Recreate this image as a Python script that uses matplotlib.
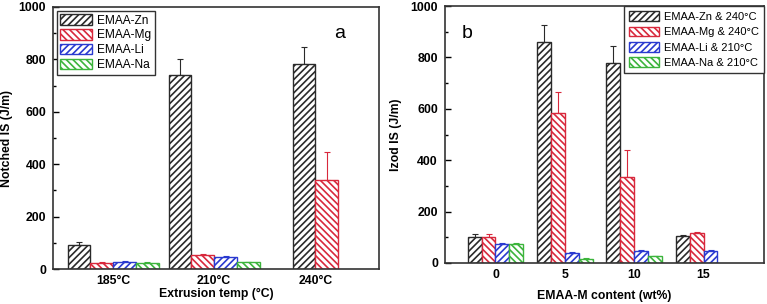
import matplotlib
matplotlib.use("Agg")
import matplotlib.pyplot as plt
import numpy as np

plt.rcParams['font.family'] = ['Liberation Sans', 'DejaVu Sans']
plt.rcParams['hatch.linewidth'] = 1.2

# panel a: notched impact strength vs extrusion temperature
temps_a = ["185°C", "210°C", "240°C"]
zn_a = [93, 741, 782]
mg_a = [23, 55, 339]
li_a = [28, 47, np.nan]
na_a = [24, 25, np.nan]
zn_a_err = [9, 62, 64]
mg_a_err = [3, 3, 106]
li_a_err = [3, 3, 0]
na_a_err = [4, 2, 0]

# panel b: izod impact strength vs EMAA-M content
content_b = ["0", "5", "10", "15"]
zn_b = [100, 862, 780, 105]
mg_b = [101, 585, 336, 118]
li_b = [75, 40, 48, 46]
na_b = [74, 17, 27, np.nan]
zn_b_err = [13, 64, 65, 3]
mg_b_err = [13, 79, 105, 4]
li_b_err = [3, 3, 3, 3]
na_b_err = [3, 2, 2, 0]

labels_a = ["EMAA-Zn", "EMAA-Mg", "EMAA-Li", "EMAA-Na"]
labels_b = ["EMAA-Zn & 240°C", "EMAA-Mg & 240°C", "EMAA-Li & 210°C", "EMAA-Na & 210°C"]

colors = ["#2a2a2a", "#d8283c", "#2a3ad0", "#3cb43c"]
hatches = ["/////", "\\\\\\\\\\", "/////", "\\\\\\\\\\"]
FS = 8.8


def draw_bars(ax, series, errs, labels, width, center_missing):
    series = [np.array(s, dtype=float) for s in series]
    n_groups = len(series[0])
    n_ser = len(series)
    for g in range(n_groups):
        if center_missing:
            idx = [k for k in range(n_ser) if not np.isnan(series[k][g])]
        else:
            idx = list(range(n_ser))
        m = len(idx)
        for j, k in enumerate(idx):
            v = series[k][g]
            if np.isnan(v):
                continue
            xpos = g + (j - (m - 1) / 2) * width
            ax.bar(xpos, v, width, facecolor="white", edgecolor=colors[k],
                   hatch=hatches[k], linewidth=1.0, zorder=2,
                   label=labels[k] if g == 0 else None)
            e = errs[k][g]
            if e > 0:
                ax.errorbar(xpos, v, yerr=[[0], [e]], fmt="none",
                            ecolor=colors[k], elinewidth=0.8, capsize=2.5,
                            capthick=0.8, zorder=1)


def style_axes(ax):
    ax.set_ylim(0, 1000)
    ax.set_yticks([0, 200, 400, 600, 800, 1000])
    ax.set_yticks(np.arange(100, 1000, 200), minor=True)
    ax.tick_params(axis="y", which="major", direction="in", length=4,
                   width=1, labelsize=FS, right=False, pad=5)
    ax.tick_params(axis="y", which="minor", direction="in", length=2, width=1)
    ax.tick_params(axis="x", length=0, labelsize=FS, pad=4)
    for lab in ax.get_yticklabels() + ax.get_xticklabels():
        lab.set_fontweight("bold")
    for sp in ax.spines.values():
        sp.set_linewidth(1.2)
        sp.set_color("#333333")


def add_legend(ax, loc, pad, fs, spacing, bpad):
    leg = ax.legend(loc=loc, fontsize=fs, frameon=True, fancybox=False,
                    edgecolor="#333333", handlelength=2.7, handleheight=1.0,
                    borderpad=bpad, labelspacing=spacing, handletextpad=0.4,
                    borderaxespad=pad, framealpha=1)
    leg.get_frame().set_linewidth(1.0)


fig = plt.figure(figsize=(7.67, 3.04), dpi=100)
ax1 = fig.add_axes([0.0691, 0.115, 0.425, 0.862])
ax2 = fig.add_axes([0.580, 0.135, 0.416, 0.845])

draw_bars(ax1, [zn_a, mg_a, li_a, na_a], [zn_a_err, mg_a_err, li_a_err, na_a_err],
          labels_a, 0.225, True)
ax1.set_xlim(-0.595, 2.63)
ax1.set_xticks(range(len(temps_a)))
ax1.set_xticklabels(temps_a)
style_axes(ax1)
ax1.set_ylabel("Notched IS (J/m)", fontsize=FS, fontweight="bold", labelpad=4)
ax1.set_xlabel("Extrusion temp (°C)", fontsize=FS, fontweight="bold", labelpad=1)
ax1.text(0.88, 0.90, "a", transform=ax1.transAxes, fontsize=14, ha="center", va="center")
add_legend(ax1, "upper left", 0.3, 8.6, 0.2, 0.3)

draw_bars(ax2, [zn_b, mg_b, li_b, na_b], [zn_b_err, mg_b_err, li_b_err, na_b_err],
          labels_b, 0.2, False)
ax2.set_xlim(-0.73, 3.87)
ax2.set_xticks(range(len(content_b)))
ax2.set_xticklabels(content_b)
style_axes(ax2)
ax2.set_ylabel("Izod IS (J/m)", fontsize=FS, fontweight="bold", labelpad=6)
ax2.set_xlabel("EMAA-M content (wt%)", fontsize=FS, fontweight="bold", labelpad=7)
ax2.text(0.07, 0.895, "b", transform=ax2.transAxes, fontsize=14, ha="center", va="center")
add_legend(ax2, "upper right", 0.0, 8.0, 0.42, 0.45)

fig.savefig("out.png", dpi=100)
